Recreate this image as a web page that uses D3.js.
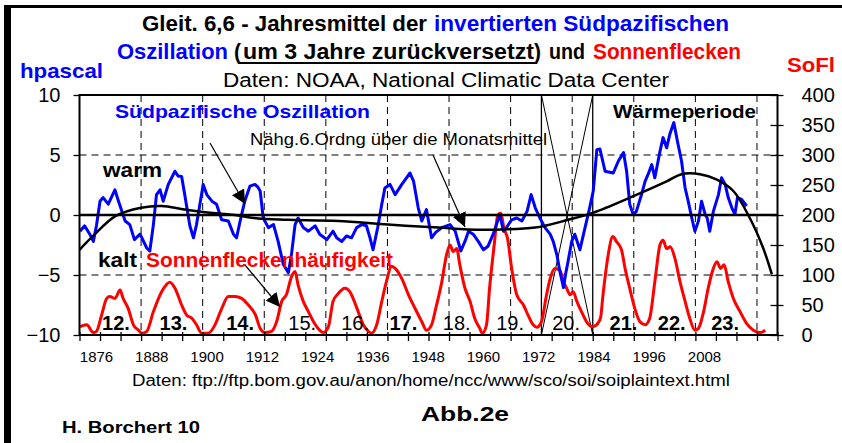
<!DOCTYPE html>
<html><head><meta charset="utf-8">
<script src="https://cdn.jsdelivr.net/npm/d3@7"></script>
<style>body{margin:0;background:#fff} svg{display:block}</style>
</head><body>
<svg id="c" width="842" height="443"></svg>
<script>
// ---------- DATA ----------
const xTickYears = [1876,1888,1900,1912,1924,1936,1948,1960,1972,1984,1996,2008];
const leftTicks = [-10,-5,0,5,10];
const rightTicks = [0,50,100,150,200,250,300,350,400];

const soiYears = [1876.1,1877,1878,1878.7,1879.3,1880,1880.6,1881.6,1882.9,1883.6,1884.9,1885.8,1886.7,1887.8,1889.1,1889.7,1890.4,1891,1891.7,1892.3,1893.3,1894.6,1895.2,1895.9,1896.5,1897.5,1898.2,1898.8,1900.1,1900.8,1901.8,1902.7,1903.7,1905,1906,1906.6,1907.3,1908.2,1909.2,1910.2,1910.8,1911.2,1911.8,1912.8,1913.8,1914.7,1915.7,1916.7,1917.3,1918,1918.6,1919.6,1920.6,1921.9,1922.8,1924.2,1925.4,1926.1,1927.1,1928,1929,1930,1931,1931.9,1932.6,1933.2,1934.1,1934.9,1935.5,1936.5,1937.5,1938.8,1940.4,1941.1,1942,1942.7,1943.6,1944.6,1945.4,1946.6,1948.2,1949.2,1950.3,1951.1,1951.8,1952.7,1953.7,1954.7,1955.6,1956.6,1957.9,1958.6,1959.2,1960.2,1961.2,1962.2,1963.2,1964,1964.8,1965.7,1966.7,1967.7,1968.3,1969,1969.6,1970.3,1970.7,1971.2,1971.9,1972.5,1973.5,1974.5,1975.4,1976.1,1976.8,1977.4,1978.4,1980,1981,1982,1982.6,1983.2,1983.9,1984.5,1985.5,1986.2,1986.8,1987.5,1988.1,1989.1,1989.7,1990.4,1991,1991.8,1992.5,1993.3,1994,1994.6,1995.3,1995.9,1996.6,1997.2,1997.9,1998.3,1998.8,1999.5,2000.5,2001.1,2001.8,2002.4,2003.1,2003.7,2004.2,2005,2006];
const soiValues = [-1.35,-0.9,-1.6,-2.2,-0.9,1.15,1.45,0.9,2.1,1.15,-0.5,-0.8,-2.05,-1.6,-2.75,-3.0,-0.8,1.7,2.1,1.15,2.55,3.65,3.25,3.2,1.7,-0.9,-1.9,-0.8,2.55,1.7,1.15,0.9,-0.4,-0.5,-1.6,-1.9,-0.5,1.15,2.4,2.55,2.3,2.0,-0.25,-1.05,-0.8,-2.2,-4.1,-4.8,-3.3,-0.8,-0.25,-1.05,-1.35,-0.9,-1.6,-2.05,-1.35,-1.9,-2.2,-1.75,-1.9,-1.05,-0.8,-0.9,-1.9,-2.9,-1.05,0.9,2.25,2.55,1.7,2.55,3.5,2.8,0.6,-0.5,0.45,-1.9,-1.45,-1.05,-0.8,-1.35,-3.0,-2.2,-1.35,-1.6,-2.2,-2.9,-2.6,-1.6,0.05,-1.35,-1.05,-0.4,-0.25,-0.5,0.3,1.7,0.6,-0.25,-1.05,-1.6,-2.2,-3.3,-4.7,-6.05,-4.95,-3.85,-2.2,-1.6,-2.9,-1.05,0.6,2.0,5.45,5.5,3.65,3.5,4.5,5.2,3.65,0.9,0.05,0.3,1.7,2.8,3.4,4.2,3.1,5.3,6.45,5.6,6.7,7.7,6.15,4.5,2.25,1.15,-0.25,-1.35,-0.5,1.15,0.05,-0.25,-1.35,0.3,1.7,3.1,2.55,1.45,0.6,0.05,1.45,1.3,0.75];

const sunYears = [1876.1,1877.4,1878.7,1879.3,1880.3,1881.3,1881.9,1882.9,1883.9,1884.5,1885.5,1886.5,1887.5,1888.1,1889.1,1890.4,1892,1893.6,1894.6,1895.9,1896.9,1897.9,1898.8,1899.8,1901.1,1902.4,1903.7,1905,1906.3,1907.6,1908.9,1910.3,1911.2,1912.1,1913.4,1914.4,1915.4,1916.3,1917.3,1918,1918.6,1919.6,1920.6,1921.6,1922.8,1923.5,1924.5,1925.4,1926.4,1927.7,1928.7,1929.3,1930.3,1931.3,1932.3,1932.9,1933.9,1934.9,1935.8,1936.8,1937.5,1938.8,1940.1,1941.4,1942.7,1943.6,1944.6,1945.4,1946.6,1947.5,1948.2,1948.8,1949.5,1950.1,1951.1,1952.1,1953,1954,1954.5,1955.3,1955.9,1956.8,1957.5,1958.1,1958.7,1959.4,1960.2,1961.2,1962.5,1963.4,1964.4,1965.1,1966,1967,1967.7,1968.6,1969.6,1970.3,1970.9,1971.6,1972.2,1972.9,1973.8,1974.8,1975.8,1976.4,1977.5,1978,1979,1979.9,1980.6,1981.6,1982.3,1983.2,1984.2,1985.2,1986.2,1987.1,1988.1,1989.1,1989.7,1990.4,1991.1,1992,1993,1994,1994.9,1995.9,1996.6,1997.6,1998.5,1999.5,2000.2,2000.9,2001.6,2002.4,2003.4,2004.7,2006,2007.3,2008.6,2009.6];
const sunValues = [14,17,4,6,33,61,64,61,75,61,44,17,8,3,6,39,72,88,78,50,33,28,17,3,3,17,44,64,64,61,50,33,11,4,6,22,56,67,97,106,83,56,39,22,8,4,14,56,69,78,72,61,39,17,6,3,17,56,89,114,111,94,67,44,22,8,17,44,89,133,150,139,144,117,78,56,28,11,3,17,78,150,200,203,178,161,111,67,50,33,17,13,22,67,94,111,108,89,78,67,72,56,39,22,14,15,28,67,133,164,156,142,111,78,44,22,17,28,89,150,158,144,147,128,89,56,28,8,11,39,78,111,122,111,117,89,61,39,19,8,4,8];

const polyYears = [1876,1879,1883,1888,1892,1896.5,1901,1906.3,1910.8,1916.6,1926.4,1936.1,1945.9,1951.7,1958.3,1964.8,1971.2,1976.1,1983.8,1990.4,1993.3,1996.9,2000.2,2003.4,2006.6,2009.2,2010.9];
const polyValues = [-2.9,-1.6,-0.1,0.6,0.75,0.45,0.2,0.0,-0.3,-0.4,-0.5,-0.8,-1.05,-1.2,-1.2,-1.05,-0.4,0.2,1.55,2.8,3.4,3.4,2.95,2.0,-0.25,-2.75,-4.95];

const markerYears = [1966,1976];
const cycleLabels = ["12.","13.","14.","15.","16.","17.","18.","19.","20.","21.","22.","23."];
const cycleYears = [1883.1,1894.3,1907.3,1919.4,1929.7,1939.1,1949.5,1959.9,1970.8,1982,1991.4,2001.8];
const cycleBold = [true,true,true,false,false,true,false,false,false,true,true,true];

// ---------- LAYOUT ----------
const svg = d3.select("#c");
const L = 79.5, R = 777.5, T = 95, B = 335;
const x = d3.scaleLinear().domain([1876,2012]).range([L,R]);
// the year labels of the original sit on a slightly compressed band under the axis
const xLab = d3.scaleLinear().domain([1876,2008]).range([96,704]);
const yL = d3.scaleLinear().domain([-10,10]).range([B,T]);
const yR = d3.scaleLinear().domain([0,400]).range([B,T]);
const F = "'Liberation Sans', Arial, sans-serif";
const FN = "'Liberation Sans Narrow', 'Arial Narrow', 'Liberation Sans', Arial, sans-serif";

// outer frame
svg.append("rect").attr("x",4).attr("y",6).attr("width",7).attr("height",440).attr("fill","#000");
svg.append("rect").attr("x",4).attr("y",5).attr("width",840).attr("height",3).attr("fill","#000");

// gridlines
const g = svg.append("g");
g.selectAll(".vg").data(xTickYears.filter(d=>d>1876)).join("line")
  .attr("x1",d=>x(d)).attr("x2",d=>x(d)).attr("y1",T).attr("y2",B)
  .attr("stroke","#000").attr("stroke-width",1).attr("stroke-dasharray","7,5");
g.selectAll(".hg").data([5,-5]).join("line")
  .attr("x1",L).attr("x2",R).attr("y1",d=>yL(d)).attr("y2",d=>yL(d))
  .attr("stroke","#000").attr("stroke-width",1).attr("stroke-dasharray","7,5");

// marker lines and X
markerYears.forEach(m=>{
  g.append("line").attr("x1",x(m)).attr("x2",x(m)).attr("y1",T).attr("y2",B).attr("stroke","#000").attr("stroke-width",1.3);
});
g.append("line").attr("x1",x(markerYears[0])).attr("y1",T).attr("x2",x(markerYears[1])).attr("y2",B).attr("stroke","#000").attr("stroke-width",1);
g.append("line").attr("x1",x(markerYears[1])).attr("y1",T).attr("x2",x(markerYears[0])).attr("y2",B).attr("stroke","#000").attr("stroke-width",1);

// series
const sun = sunYears.map((d,i)=>[d,sunValues[i]]);
const soi = soiYears.map((d,i)=>[d,soiValues[i]]);
const poly = polyYears.map((d,i)=>[d,polyValues[i]]);
svg.append("path").datum(sun).attr("fill","none").attr("stroke","#ff0000").attr("stroke-width",3).attr("stroke-linejoin","round")
  .attr("d",d3.line().x(d=>x(d[0])).y(d=>yR(d[1])).curve(d3.curveMonotoneX));
svg.append("path").datum(soi).attr("fill","none").attr("stroke","#0000ff").attr("stroke-width",3).attr("stroke-linejoin","round")
  .attr("d",d3.line().x(d=>x(d[0])).y(d=>yL(d[1])));
// zero line
svg.append("line").attr("x1",L).attr("x2",R).attr("y1",yL(0)).attr("y2",yL(0)).attr("stroke","#000").attr("stroke-width",2.5);
svg.append("path").datum(poly).attr("fill","none").attr("stroke","#000").attr("stroke-width",2.5)
  .attr("d",d3.line().x(d=>x(d[0])).y(d=>yL(d[1])).curve(d3.curveCatmullRom));

// plot border
svg.append("rect").attr("x",L).attr("y",T).attr("width",R-L).attr("height",B-T).attr("fill","none").attr("stroke","#000").attr("stroke-width",2);

// axes
const ax = svg.append("g").attr("transform",`translate(${L},0)`).call(d3.axisLeft(yL).tickValues(leftTicks).tickSize(6).tickPadding(13).tickFormat(d3.format("d")));
const ar = svg.append("g").attr("transform",`translate(${R},0)`).call(d3.axisRight(yR).tickValues(rightTicks).tickSize(6).tickPadding(18).tickFormat(d3.format("d")));
ar.selectAll(".tick line").attr("x1",-7).attr("x2",6);
const ab = svg.append("g").attr("transform",`translate(0,${B})`).call(d3.axisBottom(xLab).tickValues(xTickYears).tickSize(0).tickPadding(16).tickFormat(d3.format("d")));
const minor = d3.range(1876,2013,4);
svg.append("g").attr("transform",`translate(0,${B})`).call(d3.axisBottom(x).tickValues(minor).tickSize(6).tickFormat(""))
  .selectAll(".tick line").attr("y1",-3);
svg.selectAll(".tick line").attr("stroke","#000").attr("stroke-width",1.3);
svg.selectAll(".domain").remove();
ax.selectAll("text").attr("font-family",F).attr("font-size",20).attr("fill","#000");
ar.selectAll("text").attr("font-family",F).attr("font-size",20).attr("fill","#000");
ab.selectAll("text").attr("font-family",F).attr("font-size",15).attr("fill","#000");

// cycle labels
svg.selectAll(".cyc").data(cycleLabels).join("text")
  .attr("x",(d,i)=>x(cycleYears[i])).attr("y",330).attr("text-anchor","middle")
  .attr("font-family",F).attr("font-size",20).attr("font-weight",(d,i)=>cycleBold[i]?"bold":"normal")
  .attr("fill","#000").text(d=>d);

// text helper
function txt(s,x0,y0,len,size,weight,color,fam){
  const t = svg.append("text").attr("x",x0).attr("y",y0).attr("font-family",fam||F).attr("font-size",size)
    .attr("font-weight",weight).attr("fill",color).text(s);
  if(len) t.attr("textLength",len).attr("lengthAdjust","spacingAndGlyphs");
  return t;
}
// titles
txt("Gleit. 6,6 - Jahresmittel der",142,31,285,22,"bold","#000",FN);
txt("invertierten Südpazifischen",434,31,295,22,"bold","#0000ff",FN);
txt("Oszillation",117,59,111,22,"bold","#0000ff",FN);
txt("(",234,59,7,22,"bold","#000",FN);
txt("um 3 Jahre zurückversetzt",243,59,291,22,"bold","#000",FN);
svg.append("line").attr("x1",239).attr("x2",537).attr("y1",63).attr("y2",63).attr("stroke","#000").attr("stroke-width",2);
txt(")",534,59,7,22,"bold","#000",FN);
txt("und",549,59,36,22,"bold","#000",FN);
txt("Sonnenflecken",593,59,148,22,"bold","#ff0000",FN);
txt("hpascal",20,78,83,21,"bold","#0000ff",FN);
txt("SoFl",787,72,48,21,"bold","#ff0000",FN);
txt("Daten: NOAA, National Climatic Data Center",223,87,446,20,"normal","#000",FN);

// annotations
txt("Südpazifische Oszillation",115,118,255,19,"bold","#0000ff");
txt("Nähg.6.Ordng über die Monatsmittel",250,145,297,16,"normal","#000");
txt("warm",103,177,59,20,"bold","#000");
txt("kalt",98,267,39,20,"bold","#000");
txt("Sonnenfleckenhäufigkeit",146,267,247,20,"bold","#ff0000");
txt("Wärmeperiode",613,118,143,19,"bold","#000");

// arrows
const defs = svg.append("defs");
defs.append("marker").attr("id","ah").attr("viewBox","0 0 10 10").attr("refX",10).attr("refY",5)
  .attr("markerWidth",14).attr("markerHeight",14).attr("markerUnits","userSpaceOnUse").attr("orient","auto")
  .append("path").attr("d","M0,0L10,5L0,10z").attr("fill","#000");
[[210,143,245,204],[433,155,465,227],[245,265,280,307]].forEach(a=>{
  svg.append("line").attr("x1",a[0]).attr("y1",a[1]).attr("x2",a[2]).attr("y2",a[3]).attr("stroke","#000").attr("stroke-width",1.2).attr("marker-end","url(#ah)");
});

// footer
txt("Daten: ftp://ftp.bom.gov.au/anon/home/ncc/www/sco/soi/soiplaintext.html",132,386,598,16,"normal","#000",FN);
txt("Abb.2e",421,421,88,21,"bold","#000",F);
txt("H. Borchert 10",62,433,138,16,"bold","#000",F);
</script>
</body></html>
